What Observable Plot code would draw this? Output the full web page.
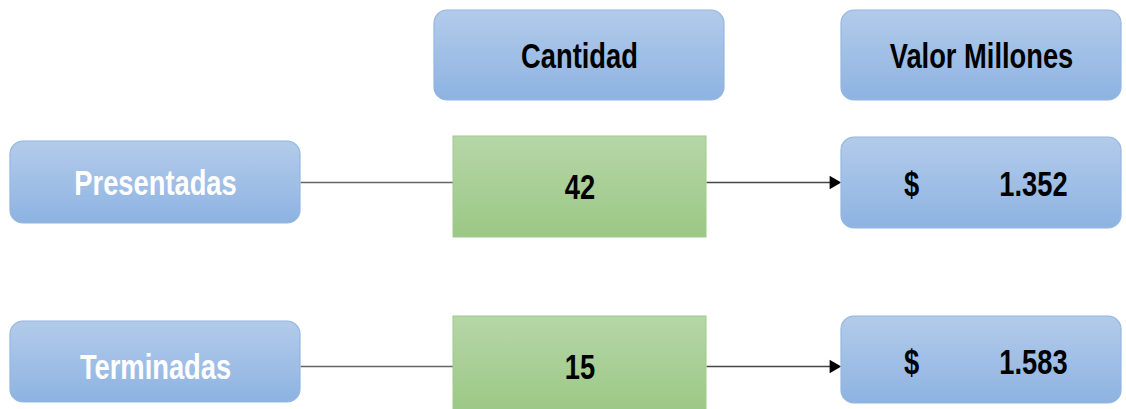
<!DOCTYPE html>
<html>
<head>
<meta charset="utf-8">
<script src="https://cdn.jsdelivr.net/npm/d3@7"></script>
<script src="https://cdn.jsdelivr.net/npm/@observablehq/plot@0.6"></script>
<style>
  html, body { margin: 0; padding: 0; background: #fff; }
</style>
</head>
<body>
<div id="chart"></div>
<script>
// ---- data ----
const headers = ["Cantidad", "Valor Millones"];
const rows = ["Presentadas", "Terminadas"];
const cantidad = [42, 15];
const valorMillones = [1352, 1583];

// ---- layout ----
const W = 1126, H = 409;
const FONT = "'Liberation Sans Narrow', 'Arial Narrow', 'Liberation Sans', Arial, sans-serif";
const FS = 35;          // font size
const SQUEEZE = 0.78;   // horizontal condensation to mimic a narrow face
const es = d3.formatLocale({decimal: ",", thousands: ".", grouping: [3], currency: ["$", ""]});
const fmt = es.format(",.0f");

const headerBox = [{x1: 434, x2: 724}, {x1: 841, x2: 1121}];
const headerY = {y1: 10, y2: 100, ty: 55};
const rowY = [
  {cy: 182, left: [141, 223], mid: [136, 237], right: [137, 228], tLeft: 182, tMid: 186, tRight: 183},
  {cy: 366, left: [321, 402], mid: [316, 414], right: [316, 403], tLeft: 366, tMid: 366, tRight: 361}
];
const leftX = {x1: 10, x2: 300};
const midX = {x1: 453, x2: 706};
const rightX = {x1: 841, x2: 1121};
const dollarX = 911, numberX = 1033;

const blueBoxes = [
  ...headers.map((h, i) => ({x1: headerBox[i].x1, x2: headerBox[i].x2, y1: headerY.y1, y2: headerY.y2})),
  ...rows.map((r, i) => ({x1: leftX.x1, x2: leftX.x2, y1: rowY[i].left[0], y2: rowY[i].left[1]})),
  ...rows.map((r, i) => ({x1: rightX.x1, x2: rightX.x2, y1: rowY[i].right[0], y2: rowY[i].right[1]}))
];
const greenBoxes = rows.map((r, i) => ({x1: midX.x1, x2: midX.x2, y1: rowY[i].mid[0], y2: rowY[i].mid[1]}));

const dy = 1.3; // shift so the cap-height centre sits on the target line
const headerTexts = headers.map((h, i) => ({x: (headerBox[i].x1 + headerBox[i].x2) / 2, y: headerY.ty + dy, text: h}));
const rowTexts = rows.map((r, i) => ({x: (leftX.x1 + leftX.x2) / 2, y: rowY[i].tLeft + dy, text: r}));
const cantTexts = cantidad.map((c, i) => ({x: (midX.x1 + midX.x2) / 2, y: rowY[i].tMid + dy, text: String(c)}));
const dollarTexts = valorMillones.map((v, i) => ({x: dollarX, y: rowY[i].tRight + dy, text: "$"}));
const valTexts = valorMillones.map((v, i) => ({x: numberX, y: rowY[i].tRight + dy, text: fmt(v)}));

const plainLinks = rows.map((r, i) => ({x1: leftX.x2, x2: midX.x1, y: rowY[i].cy}));
const arrowLinks = rows.map((r, i) => ({x1: midX.x2, x2: rightX.x1 - 10, y: rowY[i].cy}));
const arrowHeads = rows.map((r, i) => ({x: rightX.x1 - 8, y: rowY[i].cy}));

const textOpts = (fill) => ({x: "x", y: "y", text: "text", fill, fontSize: FS, fontWeight: "bold", fontFamily: FONT});

const chart = Plot.plot({
  width: W,
  height: H,
  margin: 0,
  x: {type: "identity", axis: null},
  y: {type: "identity", axis: null},
  style: {background: "#fff", fontFamily: FONT},
  marks: [
    Plot.link(plainLinks, {x1: "x1", x2: "x2", y1: "y", y2: "y", stroke: "#666", strokeWidth: 1.4}),
    Plot.link(arrowLinks, {x1: "x1", x2: "x2", y1: "y", y2: "y", stroke: "#444", strokeWidth: 1.4}),
    Plot.dot(arrowHeads, {x: "x", y: "y", symbol: "triangle", r: 5, rotate: 90, fill: "#000", stroke: "none"}),
    Plot.rect(blueBoxes, {x1: "x1", x2: "x2", y1: "y1", y2: "y2", rx: 13, fill: "url(#blueGrad)", stroke: "#93b6e0", strokeWidth: 1.2}),
    Plot.rect(greenBoxes, {x1: "x1", x2: "x2", y1: "y1", y2: "y2", fill: "url(#greenGrad)", stroke: "#a0c98c", strokeWidth: 1}),
    Plot.text(headerTexts, textOpts("#000")),
    Plot.text(rowTexts, textOpts("#fff")),
    Plot.text(cantTexts, textOpts("#000")),
    Plot.text(dollarTexts, textOpts("#000")),
    Plot.text(valTexts, textOpts("#000"))
  ]
});

const svg = d3.select(chart);
svg.insert("defs", ":first-child").html(`
  <linearGradient id="blueGrad" x1="0" y1="0" x2="0" y2="1">
    <stop offset="0" stop-color="#b3cbea"/>
    <stop offset="1" stop-color="#8db3e2"/>
  </linearGradient>
  <linearGradient id="greenGrad" x1="0" y1="0" x2="0" y2="1">
    <stop offset="0" stop-color="#b6d6a7"/>
    <stop offset="1" stop-color="#9bc885"/>
  </linearGradient>
`);
document.getElementById("chart").appendChild(chart);

// condense glyphs horizontally (no narrow face installed)
svg.selectAll("text").each(function () {
  const len = this.getComputedTextLength();
  if (len > 0) {
    this.setAttribute("textLength", (len * SQUEEZE).toFixed(1));
    this.setAttribute("lengthAdjust", "spacingAndGlyphs");
  }
});
</script>
</body>
</html>
